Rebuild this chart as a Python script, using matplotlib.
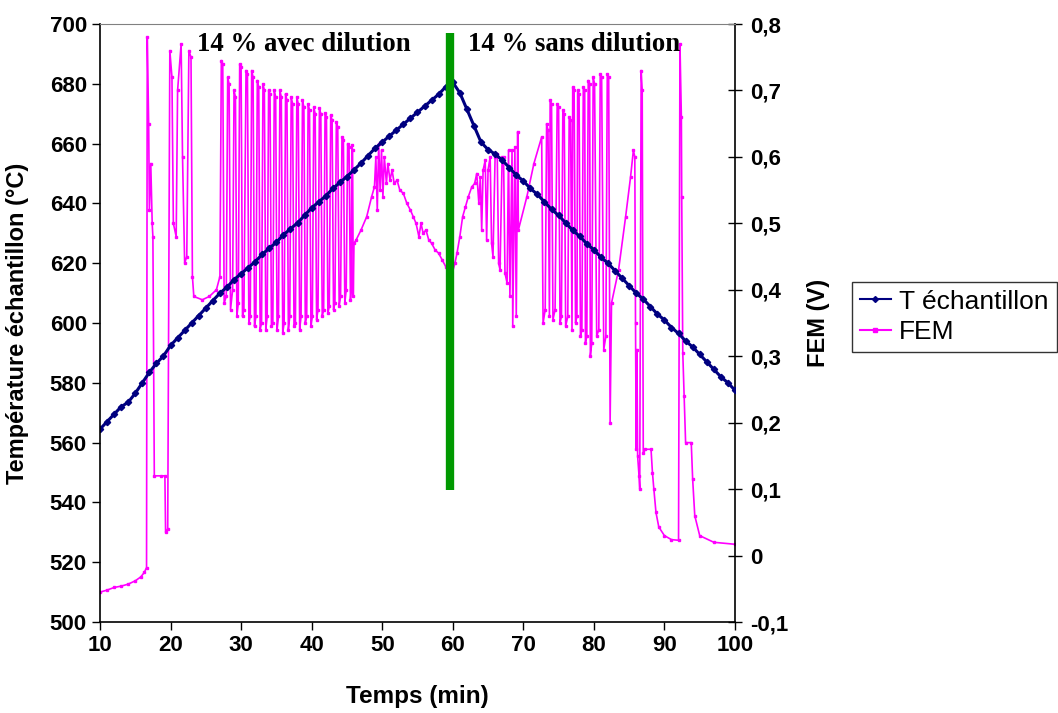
import numpy as np
import matplotlib
matplotlib.use("Agg")
import matplotlib.pyplot as plt
from matplotlib.lines import Line2D

plt.rcParams['font.family'] = ['Liberation Sans', 'DejaVu Sans']

# Temperature of the sample, one reading per minute
temp_t = list(range(10, 101))
temp_v = [564.5, 567, 569.5, 572, 573.5, 576.5, 580, 583.5, 586.5, 589,
          592.5, 595, 597.5, 600, 602.5, 605, 607.5, 610, 612, 614.5,
          616.5, 618.5, 620.5, 623, 625, 627, 629.5, 631.5, 633.5, 636,
          638.5, 640.5, 642.5, 645, 647, 649, 651.2, 653.5, 656, 658.5,
          660.5, 662.5, 664.5, 666.5, 668.5, 670.5, 672.5, 674.5, 676.5, 679,
          680.5, 677, 671.5, 666, 660.5, 658, 656.5, 654.5, 652, 649.5,
          647.5, 645, 643, 640.5, 638, 636, 633.5, 631, 629, 626.5,
          624.5, 622, 620, 617.5, 615, 612.5, 610, 608, 605.5, 603,
          601, 598.5, 596.5, 594, 592, 589.5, 587, 584.5, 582, 580,
          577.5]

# FEM signal (V), read piece by piece
fem_start = [(10.0, -0.055), (11.0, -0.052), (12.0, -0.048), (13.0, -0.046),
             (14.0, -0.043), (15.0, -0.038), (15.8, -0.032), (16.3, -0.025),
             (16.6, -0.018)]
fem_first = [(16.7, 0.78), (16.9, 0.65), (17.0, 0.52), (17.2, 0.59),
             (17.4, 0.50), (17.5, 0.48), (17.7, 0.12), (18.6, 0.12),
             (19.2, 0.12), (19.3, 0.035), (19.6, 0.04), (19.9, 0.76),
             (20.2, 0.72), (20.4, 0.50), (20.8, 0.48), (21.0, 0.70),
             (21.5, 0.77), (21.7, 0.60), (22.0, 0.44), (22.3, 0.45),
             (22.6, 0.76), (22.9, 0.75), (23.1, 0.42), (23.3, 0.39),
             (24.5, 0.385), (25.5, 0.39), (26.5, 0.40)]
fem_dilution = [(27.0, 0.42), (27.2, 0.745), (27.4, 0.74), (27.6, 0.38),
                (27.9, 0.39), (28.1, 0.72), (28.3, 0.71), (28.5, 0.37),
                (28.8, 0.40), (29.0, 0.70), (29.2, 0.69), (29.4, 0.36),
                (29.6, 0.38), (29.8, 0.74), (30.0, 0.735), (30.2, 0.36),
                (30.4, 0.37), (30.7, 0.73), (30.9, 0.725), (31.1, 0.35),
                (31.3, 0.36), (31.5, 0.73), (31.7, 0.72), (31.9, 0.345),
                (32.1, 0.36), (32.3, 0.715), (32.5, 0.705), (32.7, 0.34),
                (32.9, 0.35), (33.1, 0.71), (33.3, 0.70), (33.5, 0.34),
                (33.7, 0.36), (33.9, 0.70), (34.1, 0.695), (34.3, 0.345),
                (34.5, 0.35), (34.7, 0.70), (34.9, 0.69), (35.1, 0.34),
                (35.3, 0.36), (35.5, 0.70), (35.7, 0.69), (35.9, 0.335),
                (36.1, 0.35), (36.3, 0.695), (36.5, 0.685), (36.7, 0.34),
                (36.9, 0.36), (37.1, 0.69), (37.3, 0.68), (37.5, 0.345),
                (37.7, 0.35), (37.9, 0.69), (38.1, 0.68), (38.3, 0.34),
                (38.5, 0.36), (38.7, 0.685), (38.9, 0.675), (39.1, 0.35),
                (39.3, 0.36), (39.5, 0.68), (39.7, 0.67), (39.9, 0.345),
                (40.1, 0.36), (40.3, 0.675), (40.5, 0.665), (40.7, 0.355),
                (40.9, 0.37), (41.1, 0.673), (41.3, 0.665), (41.5, 0.36),
                (41.7, 0.37), (41.9, 0.666), (42.1, 0.66), (42.3, 0.365),
                (42.5, 0.375), (42.7, 0.663), (42.9, 0.655), (43.1, 0.37),
                (43.3, 0.38), (43.5, 0.652), (43.7, 0.645), (43.9, 0.375),
                (44.1, 0.39), (44.3, 0.63), (44.5, 0.625), (44.7, 0.38),
                (44.9, 0.40), (45.1, 0.62), (45.3, 0.615), (45.5, 0.385),
                (45.6, 0.40), (45.7, 0.618), (45.8, 0.61), (45.9, 0.39),
                (46.0, 0.47)]
fem_middle = [(46.3, 0.475), (47.0, 0.49), (47.8, 0.51), (48.5, 0.54),
              (48.9, 0.555), (49.1, 0.60), (49.3, 0.52), (49.5, 0.62),
              (49.7, 0.55), (49.9, 0.61), (50.1, 0.54), (50.3, 0.60),
              (50.6, 0.56), (50.8, 0.59), (51.1, 0.565), (51.4, 0.58),
              (51.7, 0.56), (52.1, 0.565), (52.5, 0.55), (53.0, 0.545),
              (53.5, 0.53), (54.0, 0.52), (54.4, 0.51), (54.8, 0.50),
              (55.2, 0.48), (55.5, 0.50), (55.8, 0.485), (56.2, 0.49),
              (56.6, 0.475), (57.0, 0.47), (57.5, 0.46), (58.0, 0.455),
              (58.5, 0.445), (59.0, 0.435), (59.4, 0.425), (59.8, 0.42),
              (60.3, 0.44), (60.6, 0.455), (61.0, 0.48), (61.4, 0.51),
              (61.8, 0.525), (62.2, 0.54), (62.7, 0.555), (63.1, 0.56),
              (63.4, 0.575), (63.7, 0.53), (63.9, 0.57), (64.1, 0.49),
              (64.3, 0.58), (64.6, 0.595), (64.8, 0.475), (65.0, 0.58),
              (65.3, 0.60), (65.5, 0.47), (65.7, 0.45), (66.0, 0.60),
              (66.3, 0.605), (66.5, 0.44), (66.7, 0.43), (67.0, 0.60),
              (67.2, 0.60), (67.4, 0.425), (67.7, 0.41), (67.9, 0.61),
              (68.1, 0.39), (68.4, 0.61), (68.5, 0.345), (68.8, 0.615),
              (69.0, 0.36), (69.2, 0.638), (69.3, 0.49), (70.5, 0.54),
              (71.5, 0.59), (72.6, 0.63)]
fem_no_dilution = [(72.8, 0.35), (73.1, 0.37), (73.3, 0.65), (73.5, 0.64),
                   (73.7, 0.36), (73.8, 0.685), (74.0, 0.68), (74.2, 0.355),
                   (74.5, 0.37), (74.8, 0.68), (75.0, 0.675), (75.2, 0.35),
                   (75.4, 0.36), (75.6, 0.67), (75.8, 0.665), (76.0, 0.345),
                   (76.3, 0.36), (76.5, 0.66), (76.7, 0.655), (76.9, 0.34),
                   (77.0, 0.705), (77.2, 0.70), (77.4, 0.35), (77.6, 0.36),
                   (77.7, 0.70), (77.9, 0.695), (78.1, 0.33), (78.3, 0.34),
                   (78.5, 0.705), (78.7, 0.70), (78.8, 0.32), (79.0, 0.33),
                   (79.2, 0.715), (79.4, 0.71), (79.5, 0.30), (79.7, 0.32),
                   (79.9, 0.72), (80.1, 0.71), (80.4, 0.33), (80.7, 0.34),
                   (80.9, 0.725), (81.1, 0.72), (81.4, 0.31), (81.7, 0.33),
                   (81.9, 0.725), (82.1, 0.72), (82.3, 0.20)]
fem_end = [(82.5, 0.38), (83.5, 0.43), (84.5, 0.51), (85.2, 0.57),
           (85.6, 0.61), (85.8, 0.60), (85.9, 0.35), (86.0, 0.16),
           (86.1, 0.31), (86.2, 0.15), (86.4, 0.12), (86.5, 0.10),
           (86.7, 0.73), (86.85, 0.70), (87.0, 0.154), (87.3, 0.16),
           (88.1, 0.16), (88.3, 0.125), (88.5, 0.10), (88.8, 0.065),
           (89.2, 0.043), (90.0, 0.030), (91.0, 0.024), (92.0, 0.023),
           (92.2, 0.77), (92.4, 0.66), (92.45, 0.54), (92.6, 0.305),
           (92.8, 0.24), (93.0, 0.17), (93.8, 0.17), (94.0, 0.115),
           (94.3, 0.06), (95.0, 0.03), (97.0, 0.02), (100.0, 0.017)]

fem = fem_start + fem_first + fem_dilution + fem_middle + fem_no_dilution + fem_end
fem_t = [p[0] for p in fem]
fem_v = [p[1] for p in fem]

# separator between the two regimes (time, temperature span)
sep_t = 59.6
sep_temp = [544, 697]

x_ticks = [10, 20, 30, 40, 50, 60, 70, 80, 90, 100]
temp_ticks = [500, 520, 540, 560, 580, 600, 620, 640, 660, 680, 700]
fem_ticks = [-0.1, 0.0, 0.1, 0.2, 0.3, 0.4, 0.5, 0.6, 0.7, 0.8]
fem_labels = ['-0,1', '0', '0,1', '0,2', '0,3', '0,4', '0,5', '0,6', '0,7', '0,8']

navy = '#000080'
magenta = '#FF00FF'
green = '#009900'

fig = plt.figure(figsize=(10.58, 7.13), dpi=100)
ax = fig.add_axes([0.0945, 0.1276, 0.6002, 0.8387])
ax2 = ax.twinx()
ax.set_zorder(ax2.get_zorder() + 1)
ax.patch.set_visible(False)

ax2.plot(fem_t, fem_v, color=magenta, lw=1.2, marker='s', ms=1.8, mec=magenta)
ax.plot(temp_t, temp_v, color=navy, lw=2.2, marker='D', ms=3.2, mec=navy)
ax.plot([sep_t, sep_t], sep_temp, color=green, lw=6, solid_capstyle='butt')

ax.set_xlim(10, 100)
ax.set_ylim(500, 700)
ax2.set_ylim(-0.1, 0.8)
ax.set_xticks(x_ticks)
ax.set_yticks(temp_ticks)
ax2.set_yticks(fem_ticks)
ax2.set_yticklabels(fem_labels)

for a in (ax, ax2):
    for s in a.spines.values():
        s.set_visible(False)
ax.spines['left'].set_visible(True)
ax.spines['bottom'].set_visible(True)
ax.spines['top'].set_visible(True)
ax.spines['top'].set_color('#808080')
ax2.spines['right'].set_visible(True)
for s in ('left', 'bottom'):
    ax.spines[s].set_linewidth(1.2)
ax2.spines['right'].set_linewidth(1.2)

ax.tick_params(axis='both', direction='out', length=6, width=1, labelsize=16)
ax2.tick_params(axis='y', direction='inout', length=10, width=1, labelsize=16, pad=6)
for lab in ax.get_xticklabels() + ax.get_yticklabels() + ax2.get_yticklabels():
    lab.set_fontweight('bold')

ax.set_xlabel('Temps (min)', fontsize=17.5, fontweight='bold')
ax.set_ylabel('Température échantillon (°C)', fontsize=17, fontweight='bold')
ax2.set_ylabel('FEM (V)', fontsize=17, fontweight='bold')
ax.xaxis.set_label_coords(0.5, -0.105)
ax.yaxis.set_label_coords(-0.112, 0.5)
ax2.yaxis.set_label_coords(1.113, 0.5)

ax.text(23.75, 693, '14 % avec dilution', va='center', ha='left',
        family='Liberation Serif', fontweight='bold', fontsize=19.3)
ax.text(62.2, 693, '14 % sans dilution', va='center', ha='left',
        family='Liberation Serif', fontweight='bold', fontsize=19.3)

handles = [Line2D([], [], color=navy, lw=1.5, marker='D', ms=3),
           Line2D([], [], color=magenta, lw=1.5, marker='s', ms=2.5)]
fig.legend(handles, ['T échantillon', 'FEM'], loc='upper left',
           bbox_to_anchor=(0.805, 0.605), borderaxespad=0, fontsize=19,
           frameon=True, fancybox=False, edgecolor='black', handlelength=1.2,
           borderpad=0.3, labelspacing=0.25, handletextpad=0.3)

fig.savefig('out.png', dpi=100)
